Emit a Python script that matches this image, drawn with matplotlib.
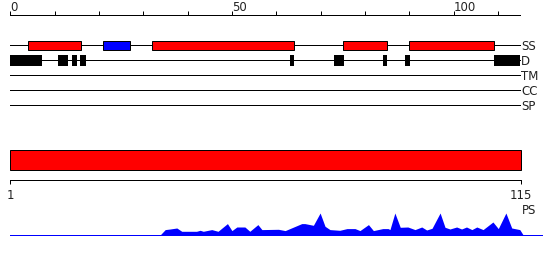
import matplotlib
matplotlib.use("Agg")
import matplotlib.pyplot as plt
from matplotlib.patches import Rectangle

# top ruler (0..115) and feature tracks
seq_len = 115
top_ticks = list(range(0, 111, 10))
top_labels = {0: '0', 50: '50', 100: '100'}
tracks = ['SS', 'D', 'TM', 'CC', 'SP']

ss_start = [4, 21, 32, 75, 90]
ss_end = [16, 27, 64, 85, 109]
ss_color = ['#ff0000', '#0000ff', '#ff0000', '#ff0000', '#ff0000']

d_start = [0, 10.8, 13.9, 15.7, 63, 73, 84, 89, 109]
d_end = [7.1, 13, 15.1, 17, 64, 75.2, 85, 90.2, 115]

# PS profile (bottom ruler runs 1..115)
ps_pos = [34.4, 35.6, 36.7, 38.2, 39.3, 42.6, 43.4, 44.1, 46.0, 47.4, 49.5,
          50.5, 51.6, 53.4, 54.5, 56.3, 57.2, 60.9, 62.4, 66.1, 66.8, 68.7,
          70.2, 71.3, 72.4, 74.6, 76.2, 78.0, 79.1, 81.0, 82.1, 84.2, 85.4,
          85.8, 86.9, 88.1, 89.8, 91.4, 92.9, 94.0, 95.2, 97.0, 98.1, 99.2,
          100.7, 101.8, 102.9, 104.1, 105.2, 106.6, 108.8, 110.0, 111.7,
          113.0, 114.8, 115.6]
ps_val = [0, 5.7, 6.3, 7.3, 4, 4, 5, 4, 5.7, 4, 11.7,
          4.7, 8.3, 8.3, 4, 10.7, 5.7, 6, 4.7, 11.7, 11.7, 10,
          22.3, 9, 5.7, 5, 6.7, 6.7, 4.7, 10.7, 4.7, 6.7, 6.7,
          5.7, 22.3, 8, 8.3, 5.7, 8.3, 5.3, 7, 22.3, 8, 6.3,
          8.3, 6.3, 8.3, 5.7, 8.3, 5.7, 13.3, 6.7, 22.3,
          7.3, 5.7, 0]

px = 1 / 1.39  # one pixel in points
txt = '#222222'
fs = 8.5

fig = plt.figure(figsize=(5.5, 2.6), dpi=100)

# axes in residue units, y in pixel rows
ax = fig.add_axes([0, 0, 1, 1])
s = 4.435
ax.set_xlim(-10.3 / s, (550 - 10.3) / s)
ax.set_ylim(260, 0)
ax.axis('off')

ax.plot([0, seq_len], [14.7, 14.7], color='k', lw=px)
ax.vlines(top_ticks, 10.7, 14.7, color='k', lw=px)
for t, lab in top_labels.items():
    ax.text(t, 11, lab, ha='left', va='baseline', fontsize=fs, color=txt)

track_y = [45, 60.3, 75.3, 90.3, 105.3]
for name, y in zip(tracks, track_y):
    ax.plot([0, seq_len], [y, y], color='k', lw=px, zorder=1)
    ax.text(seq_len + 0.2, y + 1, name, ha='left', va='center',
            fontsize=fs, color=txt)

for a, b, c in zip(ss_start, ss_end, ss_color):
    ax.add_patch(Rectangle((a, 40.7), b - a, 9.6, facecolor=c,
                           edgecolor='k', lw=px, zorder=2))
for a, b in zip(d_start, d_end):
    ax.add_patch(Rectangle((a, 54.7), b - a, 11, facecolor='k',
                           edgecolor='none', zorder=2))

# bottom part
ax2 = fig.add_axes([0, 0, 1, 1])
s2 = 4.477
ax2.set_xlim(1 - 10.3 / s2, 1 + (550 - 10.3) / s2)
ax2.set_ylim(260, 0)
ax2.axis('off')
ax2.patch.set_alpha(0)

ax2.add_patch(Rectangle((1, 150.3), seq_len - 1, 20, facecolor='#ff0000',
                        edgecolor='k', lw=px))
ax2.plot([1, seq_len], [180.3, 180.3], color='k', lw=px)
ax2.vlines([1, seq_len], 180.3, 184.3, color='k', lw=px)
ax2.text(1, 195.5, '1', ha='center', va='center', fontsize=fs, color=txt)
ax2.text(seq_len, 195.5, str(seq_len), ha='center', va='center',
         fontsize=fs, color=txt)
ax2.text(seq_len + 0.2, 211, 'PS', ha='left', va='center', fontsize=fs,
         color=txt)

base = 235.3
ax2.fill_between(ps_pos, base, [base - v for v in ps_val], color='#0000ff',
                 lw=0)
ax2.plot([1, 119.7], [base, base], color='#0000ff', lw=px)

fig.savefig('out.png', dpi=100)
